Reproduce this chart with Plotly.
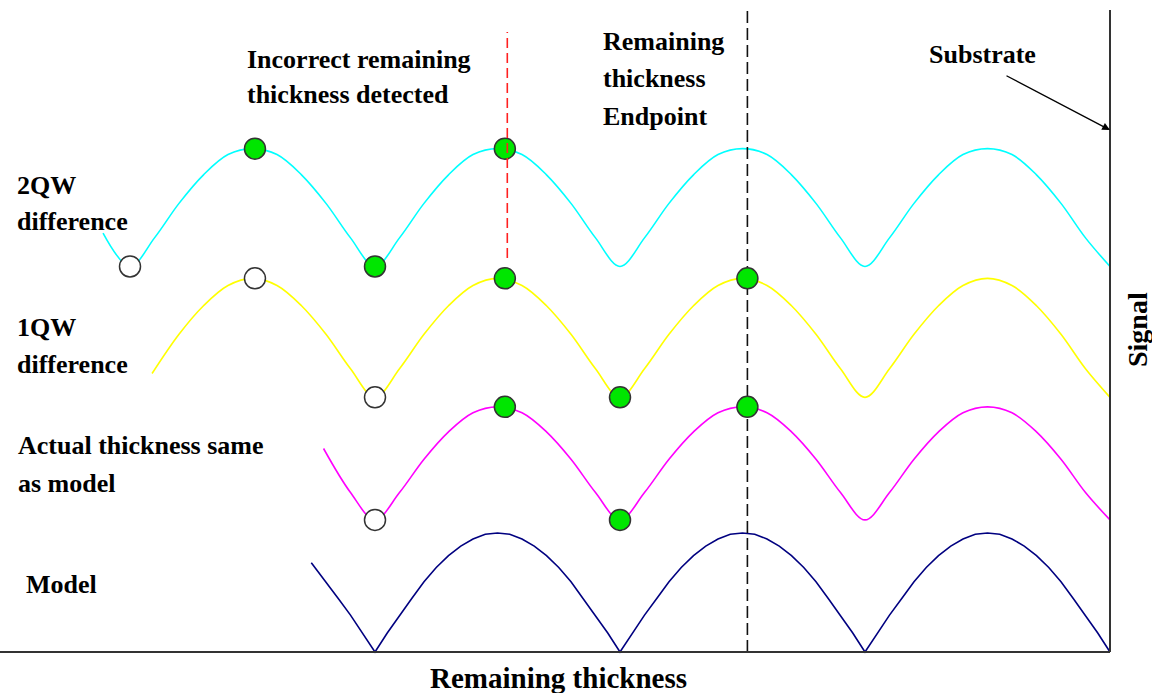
import plotly.graph_objects as go

# ---- signal traces (remaining thickness in arbitrary units, signal in arbitrary units) ----
cyan_x = [-11, 0, 10, 20, 30, 40, 50, 60, 70, 80, 90, 100, 110, 120, 130, 140, 150, 160, 170, 180, 190,
          200, 210, 220, 230, 240, 250, 260, 270, 280, 290, 300, 310, 320, 330, 340, 350, 360, 370, 380, 390, 400]
cyan_y = [352, 324, 348, 377, 401, 418, 423, 418, 401, 377, 348,
          324, 348, 377, 401, 418, 423, 418, 401, 377, 348,
          324, 348, 377, 401, 418, 423, 418, 401, 377, 348,
          324, 348, 377, 401, 418, 423, 418, 401, 377, 348, 324]

yellow_x = [9, 20, 30, 40, 50, 60, 70, 80, 90, 100, 110, 120, 130, 140, 150, 160, 170, 180, 190,
            200, 210, 220, 230, 240, 250, 260, 270, 280, 290, 300, 310, 320, 330, 340, 350, 360, 370, 380, 390, 400]
yellow_y = [234, 267, 291, 308, 314, 308, 291, 267, 238, 214,
            238, 267, 291, 308, 314, 308, 291, 267, 238, 214,
            238, 267, 291, 308, 314, 308, 291, 267, 238, 214,
            238, 267, 291, 308, 314, 308, 291, 267, 238, 214]

magenta_x = [79, 90, 100, 110, 120, 130, 140, 150, 160, 170, 180, 190,
             200, 210, 220, 230, 240, 250, 260, 270, 280, 290, 300, 310, 320, 330, 340, 350, 360, 370, 380, 390, 400]
magenta_y = [171, 134, 111,
             134, 162, 185, 201, 206, 201, 185, 162, 134, 111,
             134, 162, 185, 201, 206, 201, 185, 162, 134, 111,
             134, 162, 185, 201, 206, 201, 185, 162, 134, 111]

model_x = [74, 80, 85, 90, 95, 100, 105, 110, 115, 120, 125, 130, 135, 140, 145, 150, 155, 160, 165, 170, 175,
           180, 185, 190, 195, 200, 205, 210, 215, 220, 225, 230, 235, 240, 245, 250, 255, 260, 265, 270, 275,
           280, 285, 290, 295, 300, 305, 310, 315, 320, 325, 330, 335, 340, 345, 350, 355, 360, 365, 370, 375,
           380, 385, 390, 395, 400]
model_y = [75, 59, 45, 31, 16, 0,
           16, 31, 45, 59, 71, 81, 89, 95, 99, 100, 99, 95, 89, 81, 71, 59, 45, 31, 16, 0,
           16, 31, 45, 59, 71, 81, 89, 95, 99, 100, 99, 95, 89, 81, 71, 59, 45, 31, 16, 0,
           16, 31, 45, 59, 71, 81, 89, 95, 99, 100, 99, 95, 89, 81, 71, 59, 45, 31, 16, 0]

# ---- detected extrema: open = not counted, filled = counted ----
cyan_open_x, cyan_open_y = [0], [324]
cyan_fill_x, cyan_fill_y = [51, 100, 153], [423, 324, 423]
yellow_open_x, yellow_open_y = [51, 100], [314, 214]
yellow_fill_x, yellow_fill_y = [153, 200, 252], [314, 214, 314]
magenta_open_x, magenta_open_y = [100], [111]
magenta_fill_x, magenta_fill_y = [153, 200, 252], [206, 111, 206]

incorrect_x = 154   # wrongly detected remaining thickness
endpoint_x = 252    # remaining thickness endpoint
substrate_x = 400   # substrate position

# ---- page geometry ----
W, H = 1152, 693
X0_PX, X_SCALE = 130, 2.45     # pixel of thickness 0, pixels per unit
Y0_PX, Y_SCALE = 652, 1.19     # pixel of signal 0, pixels per unit


def xdata(p):
    return (p - X0_PX) / X_SCALE


def ydata(p):
    return (Y0_PX - p) / Y_SCALE


def px(p):
    return p / W


def py(p):
    return 1 - p / H


FONT = "Liberation Serif, Times New Roman, serif"
fig = go.Figure()

curve_style = [
    (cyan_x, cyan_y, "#00FFFF", "spline"),
    (yellow_x, yellow_y, "#FFFF00", "spline"),
    (magenta_x, magenta_y, "#FF00FF", "spline"),
    (model_x, model_y, "#000080", "linear"),
]
for xs, ys, col, shp in curve_style:
    fig.add_trace(go.Scatter(x=xs, y=ys, mode="lines", line=dict(color=col, width=1.6, shape=shp),
                             hoverinfo="skip", showlegend=False))

# endpoint line sits beneath the markers
fig.add_trace(go.Scatter(x=[endpoint_x, endpoint_x], y=[0, ydata(10)], mode="lines",
                         line=dict(color="#111111", width=1.6, dash="12px,5px"),
                         hoverinfo="skip", showlegend=False))

marker_sets = [
    (cyan_open_x, cyan_open_y, "white"),
    (cyan_fill_x, cyan_fill_y, "#00E600"),
    (yellow_open_x, yellow_open_y, "white"),
    (yellow_fill_x, yellow_fill_y, "#00E600"),
    (magenta_open_x, magenta_open_y, "white"),
    (magenta_fill_x, magenta_fill_y, "#00E600"),
]
for xs, ys, col in marker_sets:
    fig.add_trace(go.Scatter(x=xs, y=ys, mode="markers",
                             marker=dict(size=21, color=col, symbol="circle",
                                         line=dict(color="#333333", width=1.5)),
                             hoverinfo="skip", showlegend=False))

# incorrect detection line drawn over the markers
fig.add_trace(go.Scatter(x=[incorrect_x, incorrect_x], y=[ydata(258), ydata(32)], mode="lines",
                         line=dict(color="#FF2020", width=1.6, dash="10px,5px"),
                         hoverinfo="skip", showlegend=False))

# axes frame
fig.add_shape(type="line", x0=xdata(0), x1=substrate_x, y0=0, y1=0,
              line=dict(color="#333333", width=2), layer="above")
fig.add_shape(type="line", x0=substrate_x, x1=substrate_x, y0=0, y1=ydata(10),
              line=dict(color="#333333", width=2), layer="above")

labels = [
    ("Incorrect remaining", 245, 59),
    ("thickness detected", 245, 94),
    ("Remaining", 601, 42),
    ("thickness", 601, 79),
    ("Endpoint", 601, 116),
    ("Substrate", 927, 54),
    ("2QW", 15, 185),
    ("difference", 15, 221),
    ("1QW", 15, 327),
    ("difference", 15, 364),
    ("Actual thickness same", 16, 445),
    ("as model", 16, 483),
    ("Model", 24, 584),
]
for txt, lx, ly in labels:
    fig.add_annotation(x=px(lx), y=py(ly), xref="paper", yref="paper", text="<b>" + txt + "</b>",
                       showarrow=False, xanchor="left", yanchor="middle",
                       font=dict(family=FONT, size=26, color="black"))

fig.add_annotation(x=px(558), y=py(678), xref="paper", yref="paper", text="<b>Remaining thickness</b>",
                   showarrow=False, xanchor="center", yanchor="middle",
                   font=dict(family=FONT, size=29, color="black"))
fig.add_annotation(x=px(1137), y=py(330), xref="paper", yref="paper", text="<b>Signal</b>", textangle=-90,
                   showarrow=False, xanchor="center", yanchor="middle",
                   font=dict(family=FONT, size=28, color="black"))

# arrow pointing at the substrate
fig.add_annotation(x=substrate_x, y=ydata(130), xref="x", yref="y", text="", showarrow=True,
                   ax=-105, ay=-55, arrowhead=2, arrowsize=1.2, arrowwidth=1.3,
                   arrowcolor="black", standoff=0)

fig.update_layout(
    width=W, height=H, margin=dict(l=0, r=0, t=0, b=0),
    paper_bgcolor="white", plot_bgcolor="white",
    xaxis=dict(range=[xdata(0), xdata(W)], visible=False, fixedrange=True),
    yaxis=dict(range=[ydata(H), ydata(0)], visible=False, fixedrange=True),
)

fig.write_html("out.html")
